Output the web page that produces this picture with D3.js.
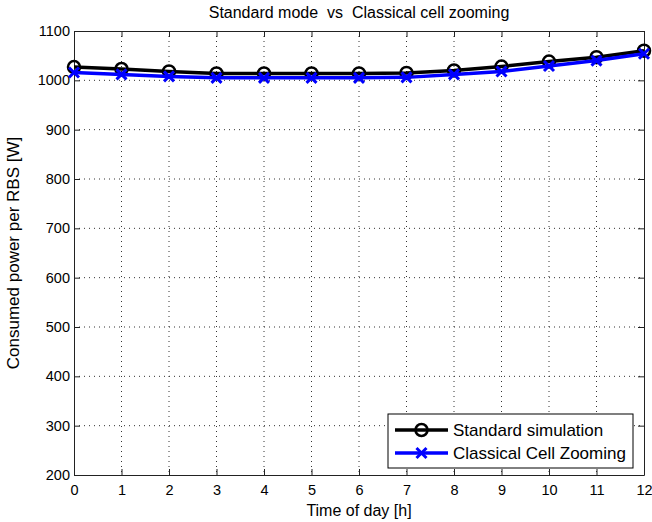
<!DOCTYPE html>
<html>
<head>
<meta charset="utf-8">
<script src="https://cdn.jsdelivr.net/npm/d3@7"></script>
<style>
  body { margin: 0; background: #fff; }
  text { font-family: "Liberation Sans", Arial, sans-serif; fill: #000; }
</style>
</head>
<body>
<div id="chart"></div>
<script>
const hours = [0, 1, 2, 3, 4, 5, 6, 7, 8, 9, 10, 11, 12];
const standardSim = [1027, 1023, 1018, 1014, 1014, 1014, 1014, 1015, 1020, 1028, 1038, 1047, 1060];
const cellZooming = [1016, 1012, 1008, 1005, 1005, 1005, 1005, 1006, 1012, 1018, 1029, 1040, 1054];
const yTicks = [200, 300, 400, 500, 600, 700, 800, 900, 1000, 1100];

const width = 652, height = 522;
const margin = { top: 31, right: 8, bottom: 47, left: 74 };
const iw = width - margin.left - margin.right;
const ih = height - margin.top - margin.bottom;

const svg = d3.select("#chart").append("svg")
  .attr("width", width)
  .attr("height", height);

const g = svg.append("g").attr("transform", `translate(${margin.left},${margin.top})`);

const x = d3.scaleLinear().domain([0, 12]).range([0, iw]);
const y = d3.scaleLinear().domain([200, 1100]).range([ih, 0]);

// dotted grid
g.append("g").selectAll("line")
  .data(hours.slice(1, -1))
  .join("line")
  .attr("x1", d => x(d)).attr("x2", d => x(d))
  .attr("y1", 0).attr("y2", ih)
  .attr("stroke", "#333").attr("stroke-width", 1)
  .attr("stroke-dasharray", "1,4");

g.append("g").selectAll("line")
  .data(yTicks.slice(1, -1))
  .join("line")
  .attr("x1", 0).attr("x2", iw)
  .attr("y1", d => y(d)).attr("y2", d => y(d))
  .attr("stroke", "#333").attr("stroke-width", 1)
  .attr("stroke-dasharray", "1,4");

// axes, ticks pointing inward on all four sides
const xAxis = g.append("g")
  .attr("transform", `translate(0,${ih})`)
  .call(d3.axisBottom(x).tickValues(hours).tickFormat(d3.format("d"))
    .tickSizeInner(-6).tickSizeOuter(0).tickPadding(10));
const yAxis = g.append("g")
  .call(d3.axisLeft(y).tickValues(yTicks).tickFormat(d3.format("d"))
    .tickSizeInner(-6).tickSizeOuter(0).tickPadding(10));
g.append("g")
  .call(d3.axisTop(x).tickValues(hours).tickSizeInner(-6).tickSizeOuter(0).tickFormat(""));
g.append("g")
  .attr("transform", `translate(${iw},0)`)
  .call(d3.axisRight(y).tickValues(yTicks).tickSizeInner(-6).tickSizeOuter(0).tickFormat(""));

g.selectAll(".domain, .tick line").attr("stroke", "#222");
g.selectAll(".tick text")
  .style("font-size", "14.5px")
  .style("font-family", "'Liberation Sans', Arial, sans-serif")
  .attr("fill", "#111");
xAxis.selectAll(".tick text").attr("dy", "0.7em");
yAxis.selectAll(".tick text").attr("dx", "6px");

const line = d3.line().x((d, i) => x(hours[i])).y(d => y(d));

// standard simulation
g.append("path").datum(standardSim)
  .attr("d", line).attr("fill", "none")
  .attr("stroke", "#000").attr("stroke-width", 3.5);
g.selectAll("circle.std").data(standardSim).join("circle")
  .attr("class", "std")
  .attr("cx", (d, i) => x(hours[i])).attr("cy", d => y(d))
  .attr("r", 6).attr("fill", "none")
  .attr("stroke", "#000").attr("stroke-width", 2.5);

// classical cell zooming
g.append("path").datum(cellZooming)
  .attr("d", line).attr("fill", "none")
  .attr("stroke", "#0000ff").attr("stroke-width", 3.5);

function cross(sel, cx, cy, s) {
  sel.append("path")
    .attr("d", `M${cx - s},${cy - s}L${cx + s},${cy + s}M${cx - s},${cy + s}L${cx + s},${cy - s}`)
    .attr("stroke", "#0000ff").attr("stroke-width", 3).attr("fill", "none");
}
const crossG = g.append("g");
cellZooming.forEach((d, i) => cross(crossG, x(hours[i]), y(d), 5));

// title and labels
svg.append("text")
  .attr("x", margin.left + iw / 2).attr("y", 18)
  .attr("text-anchor", "middle")
  .attr("xml:space", "preserve")
  .style("white-space", "pre")
  .style("font-size", "16px")
  .text("Standard mode  vs  Classical cell zooming");

svg.append("text")
  .attr("x", margin.left + iw / 2).attr("y", 516)
  .attr("text-anchor", "middle")
  .style("font-size", "16px")
  .text("Time of day [h]");

svg.append("text")
  .attr("transform", `translate(19,${margin.top + ih / 2}) rotate(-90)`)
  .attr("text-anchor", "middle")
  .style("font-size", "17px")
  .text("Consumed power per RBS [W]");

// legend
const lg = svg.append("g").attr("transform", "translate(388,414)");
lg.append("rect")
  .attr("width", 245).attr("height", 54)
  .attr("fill", "#fff").attr("stroke", "#000").attr("stroke-width", 1);

const legendItems = [
  { name: "Standard simulation", color: "#000", mark: "circle" },
  { name: "Classical Cell Zooming", color: "#0000ff", mark: "cross" }
];
legendItems.forEach((item, i) => {
  const ly = 16 + i * 23;
  lg.append("line")
    .attr("x1", 7).attr("x2", 60).attr("y1", ly).attr("y2", ly)
    .attr("stroke", item.color).attr("stroke-width", 3.5);
  if (item.mark === "circle") {
    lg.append("circle").attr("cx", 33.5).attr("cy", ly).attr("r", 6)
      .attr("fill", "none").attr("stroke", "#000").attr("stroke-width", 2.5);
  } else {
    cross(lg, 33.5, ly, 5);
  }
  lg.append("text")
    .attr("x", 65).attr("y", ly + 6)
    .style("font-size", "17px")
    .text(item.name);
});
</script>
</body>
</html>
